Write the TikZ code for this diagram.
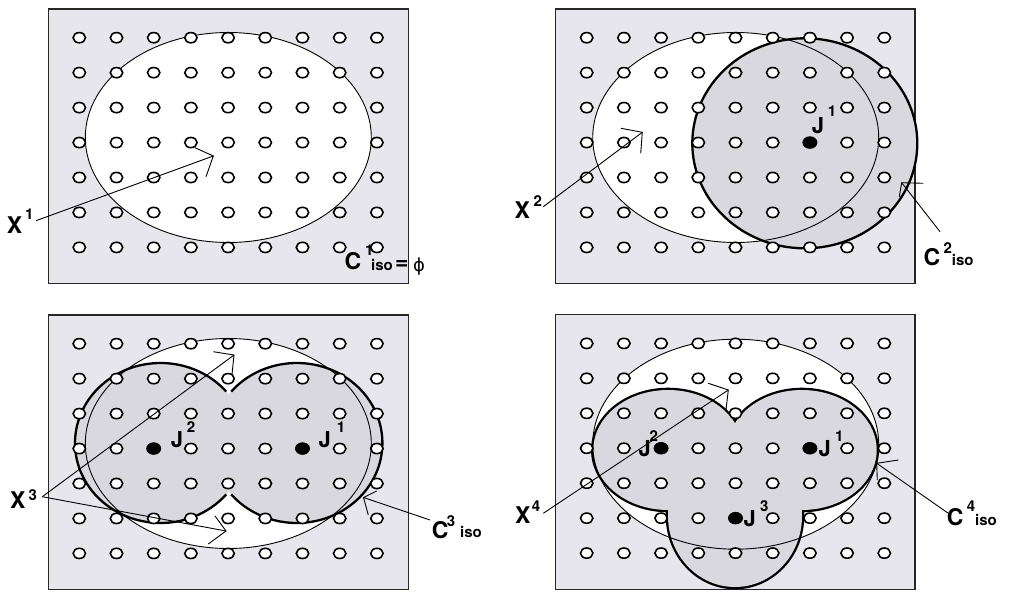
\documentclass[tikz,border=0pt]{standalone}
\usepackage{fontspec}
\setmainfont{TeX Gyre Heros}
\newfontfamily\dejavu{DejaVu Sans}
\definecolor{bg}{RGB}{230,230,236}
\definecolor{disc}{RGB}{216,216,222}
\newcommand{\gridholes}{%
  \foreach \i in {0,...,8}{\foreach \j in {0,...,6}{%
    \path[hole] ({31+37.2*\i},{28.7+34.95*\j}) ellipse [x radius=6.2, y radius=5.1];}}}
\begin{document}
\begin{tikzpicture}[x=1pt,y=-1pt,
  panel/.style={fill=bg, draw=black!85, line width=1.2pt},
  thinline/.style={draw=black, line width=0.9pt},
  thickline/.style={draw=black, line width=2.3pt},
  dblline/.style={draw=black, line width=4.6pt},
  hole/.style={fill=white, draw=black, line width=1.6pt},
  jdot/.style={fill=black},
  lead/.style={draw=black, line width=0.9pt},
  big/.style={font=\fontsize{23}{23}\selectfont\bfseries, inner sep=0pt, anchor=base west},
  jl/.style={font=\fontsize{22}{22}\selectfont\bfseries, inner sep=0pt, anchor=base west},
  sup/.style={font=\fontsize{15}{15}\selectfont\bfseries, inner sep=0pt, anchor=base west},
  sub/.style={font=\fontsize{15}{15}\selectfont\bfseries, inner sep=0pt, anchor=base west},
  phi/.style={font=\fontsize{18}{18}\selectfont\dejavu, inner sep=0pt, anchor=base west}]
\useasboundingbox (0,0) rectangle (1011,604);

% ---------------- panel 1
\begin{scope}[shift={(48.3,9)}]
  \path[panel] (0,0) rectangle (360,274.3);
  \path[fill=white] (180,128.5) ellipse [x radius=143, y radius=105];
  \path[thinline] (180,128.5) ellipse [x radius=143, y radius=105];
  \gridholes
\end{scope}

% ---------------- panel 2
\begin{scope}[shift={(555.7,9)}]
  \path[panel] (0,0) rectangle (359.3,274.3);
  \path[fill=white] (180,128.5) ellipse [x radius=143, y radius=105];
  \path[fill=disc] (249.1,134.3) ellipse [x radius=112.5, y radius=105];
  \path[thinline] (180,128.5) ellipse [x radius=143, y radius=105];
  \path[thickline] (249.1,134.3) ellipse [x radius=112.5, y radius=105];
  \gridholes
  \path[jdot] (254.2,133.55) ellipse [x radius=7.5, y radius=6.2];
\end{scope}

% ---------------- panel 3
\begin{scope}[shift={(48.3,315)}]
  \path[panel] (0,0) rectangle (360,274.3);
  \path[fill=white] (180,128.5) ellipse [x radius=143, y radius=105];
  \path[fill=disc] (112.3,128) ellipse [x radius=85.6, y radius=80];
  \path[fill=disc] (248.5,128) ellipse [x radius=85.6, y radius=80];
  \path[thinline] (180,128.5) ellipse [x radius=143, y radius=105];
  \draw[thickline] (112.3,128) ++(-40:85.6 and 80) arc[start angle=-40, end angle=-320, x radius=85.6, y radius=80];
  \draw[thickline] (248.5,128) ++(220:85.6 and 80) arc[start angle=220, end angle=500, x radius=85.6, y radius=80];
  \gridholes
  \path[jdot] (105.4,133.55) ellipse [x radius=7.5, y radius=6.2];
  \path[jdot] (254.2,133.55) ellipse [x radius=7.5, y radius=6.2];
\end{scope}

% ---------------- panel 4
\begin{scope}[shift={(555.7,314.7)}]
  \path[panel] (0,0) rectangle (359.3,274.6);
  \path[fill=white] (180,129.5) ellipse [x radius=143, y radius=105];
  \path[dblline] (112.4,135.3) ellipse [x radius=74.8, y radius=60];
  \path[dblline] (246.2,135.3) ellipse [x radius=74.8, y radius=60];
  \path[dblline] (179.3,201.3) ellipse [x radius=67, y radius=71];
  \path[fill=disc] (112.4,135.3) ellipse [x radius=74.8, y radius=60];
  \path[fill=disc] (246.2,135.3) ellipse [x radius=74.8, y radius=60];
  \path[fill=disc] (179.3,201.3) ellipse [x radius=67, y radius=71];
  \path[thinline] (180,129.5) ellipse [x radius=143, y radius=105];
  \gridholes
  \path[jdot] (105.4,133.55) ellipse [x radius=7.5, y radius=6.2];
  \path[jdot] (254.2,133.55) ellipse [x radius=7.5, y radius=6.2];
  \path[jdot] (179.8,203.45) ellipse [x radius=7.5, y radius=6.2];
\end{scope}

% ---------------- labels
\node[big] (x1) at (6.7,233.3) {X};
\node[sup] (x1s) at (25,219.7) {1};
\node[big] (c1) at (344.3,269.3) {C};
\node[sup] (c1s) at (365,255) {1};
\node[sub] (c1i) at (371,270) {iso};
\node[big] (c1e) at (395,269.3) {=};
\node[phi] (c1p) at (413,271) {ϕ};

\node[big] (x2) at (514.3,218.3) {X};
\node[sup] (x2s) at (533.3,206.7) {2};
\node[jl] (j21) at (811.7,133.3) {J};
\node[sup] (j21s) at (827.7,116.7) {1};
\node[big] (c2) at (923.3,265) {C};
\node[sup] (c2s) at (943.3,253.3) {2};
\node[sub] (c2i) at (951.7,265.7) {iso};

\node[big] (x3) at (10,508.3) {X};
\node[sup] (x3s) at (28.3,500) {3};
\node[jl] (j32) at (170.7,447.7) {J};
\node[sup] (j32s) at (186.7,432.7) {2};
\node[jl] (j31) at (318.3,447.7) {J};
\node[sup] (j31s) at (336.7,432.7) {1};
\node[big] (c3) at (431.7,538.3) {C};
\node[sup] (c3s) at (446.7,526.7) {3};
\node[sub] (c3i) at (460,537.3) {iso};

\node[big] (x4) at (515,523.3) {X};
\node[sup] (x4s) at (531.7,511.7) {4};
\node[jl] (j42) at (638.3,456) {J};
\node[sup] (j42s) at (649.3,441.7) {2};
\node[jl] (j41) at (818.3,456) {J};
\node[sup] (j41s) at (835,441.7) {1};
\node[jl] (j43) at (743.3,526.7) {J};
\node[sup] (j43s) at (760,511.7) {3};
\node[big] (c4) at (946.7,525) {C};
\node[sup] (c4s) at (966.7,511.7) {4};
\node[sub] (c4i) at (975,525) {iso};

% ---------------- leaders with open heads
\coordinate (a1s) at (36,220.7);   \coordinate (a1t) at (213.3,156);
\coordinate (a1h) at (195,147.7);  \coordinate (a1k) at (206,176.7);
\draw[lead] (a1s) -- (a1t);  \draw[lead] (a1h) -- (a1t) -- (a1k);

\coordinate (a2s) at (543.3,206.7); \coordinate (a2t) at (642.3,132.3);
\coordinate (a2h) at (621,128.3);   \coordinate (a2k) at (640.7,153.3);
\draw[lead] (a2s) -- (a2t);  \draw[lead] (a2h) -- (a2t) -- (a2k);

\coordinate (b2s) at (940,231.7);   \coordinate (b2t) at (901.7,182.7);
\coordinate (b2h) at (923.3,183.3); \coordinate (b2k) at (899.3,196.7);
\draw[lead] (b2s) -- (b2t);  \draw[lead] (b2h) -- (b2t) -- (b2k);

\coordinate (a3s) at (42.3,496.7);
\coordinate (a3t) at (234,355);     \coordinate (a3h) at (213.3,351.7); \coordinate (a3k) at (232,374.5);
\coordinate (a3u) at (226,531);     \coordinate (a3v) at (215,516);     \coordinate (a3w) at (208.3,544);
\draw[lead] (a3s) -- (a3t);  \draw[lead] (a3h) -- (a3t) -- (a3k);
\draw[lead] (a3s) -- (a3u);  \draw[lead] (a3v) -- (a3u) -- (a3w);

\coordinate (b3s) at (430,520);     \coordinate (b3t) at (363.5,497.5);
\coordinate (b3h) at (376.7,491);   \coordinate (b3k) at (368.3,515);
\draw[lead] (b3s) -- (b3t);  \draw[lead] (b3h) -- (b3t) -- (b3k);

\coordinate (a4s) at (543.3,513.3); \coordinate (a4t) at (728.3,390);
\coordinate (a4h) at (708.3,383.3); \coordinate (a4k) at (726,410);
\draw[lead] (a4s) -- (a4t);  \draw[lead] (a4h) -- (a4t) -- (a4k);

\coordinate (b4s) at (948.3,513.3); \coordinate (b4t) at (876.7,463.3);
\coordinate (b4h) at (898.3,460);   \coordinate (b4k) at (877.3,480);
\draw[lead] (b4s) -- (b4t);  \draw[lead] (b4h) -- (b4t) -- (b4k);
\end{tikzpicture}
\end{document}
